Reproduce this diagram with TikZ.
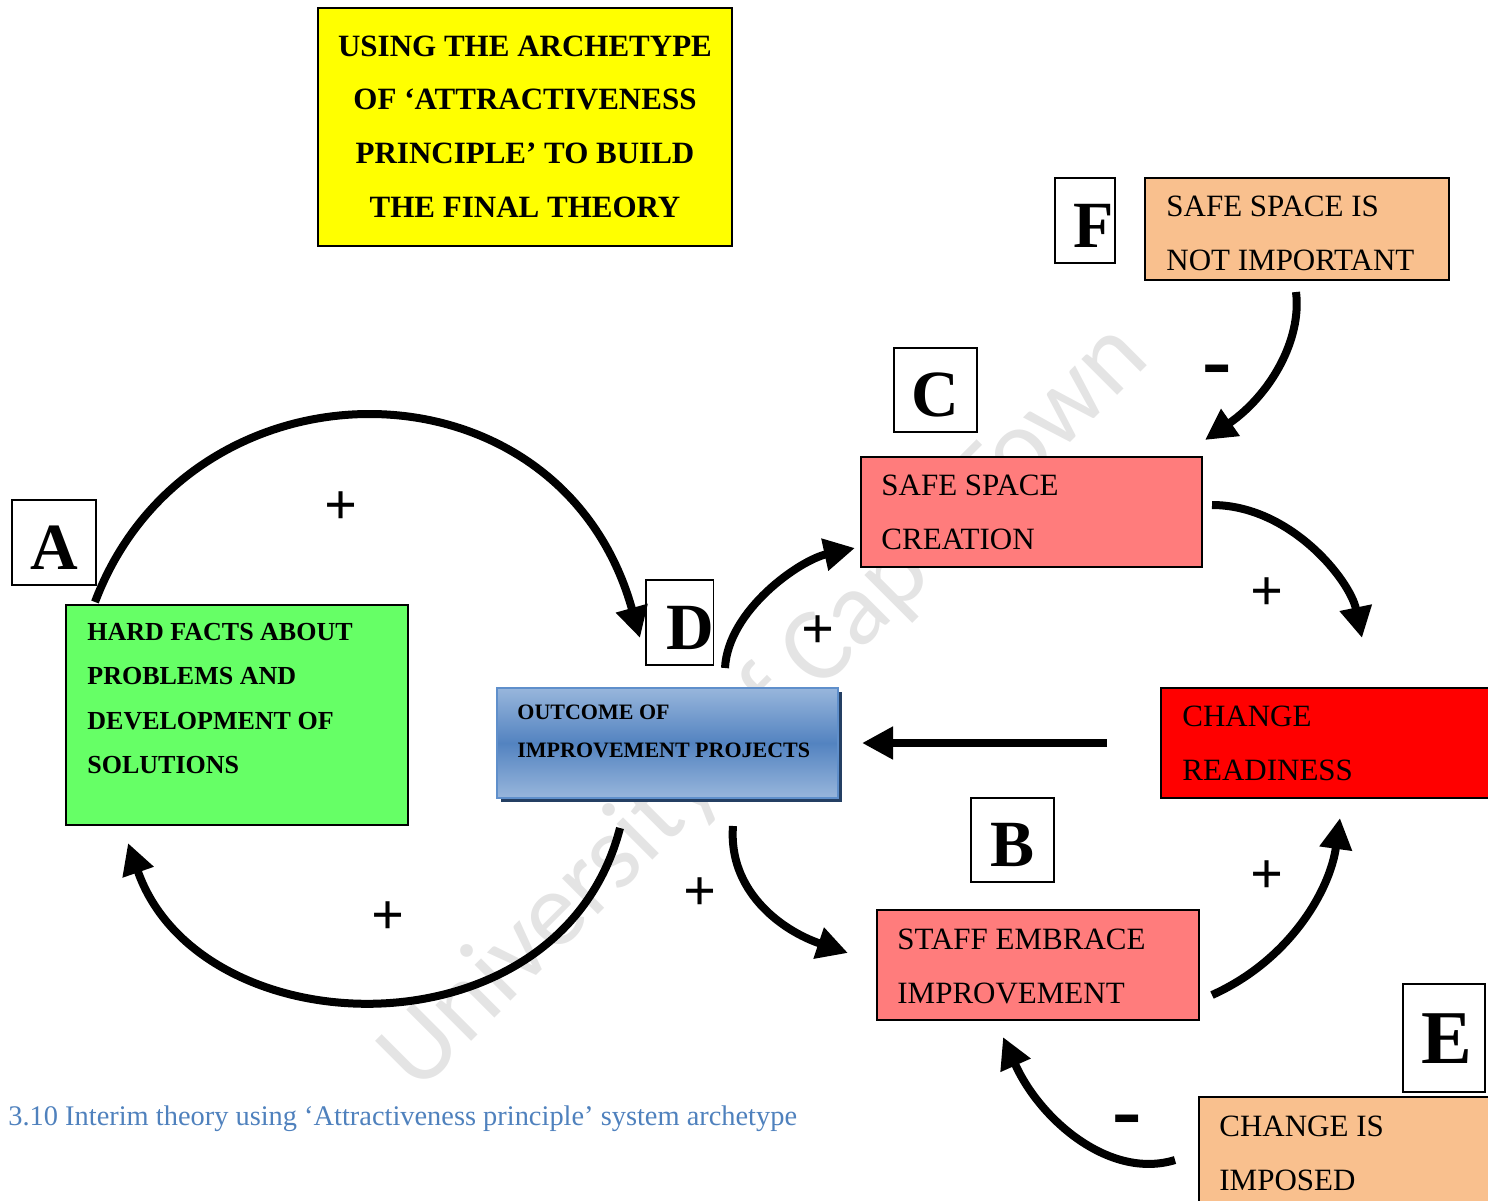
\documentclass[tikz,border=0pt]{standalone}
\usepackage{fontspec}
\setmainfont{Liberation Serif}
\newfontfamily\wmfont{Carlito}
\usetikzlibrary{calc,arrows.meta,shadows}

\definecolor{titleyellow}{HTML}{FFFF00}
\definecolor{factgreen}{HTML}{66FF66}
\definecolor{salmon}{HTML}{FF7C7C}
\definecolor{alarmred}{HTML}{FF0000}
\definecolor{peach}{HTML}{F9C08E}
\definecolor{outlight}{HTML}{98B6DC}
\definecolor{outdark}{HTML}{5383C0}
\definecolor{outborder}{HTML}{5F8FCB}
\definecolor{outshadow}{HTML}{243F63}
\definecolor{capblue}{HTML}{4F81BD}
\definecolor{wmgray}{HTML}{E4E4E4}

\begin{document}
\begin{tikzpicture}[x=0.5pt,y=-0.5pt,
  box/.style={draw=black, line width=0.8pt, anchor=north west, inner sep=0pt, outer sep=0pt},
  letterbox/.style={box, fill=white, font=\fontsize{33}{33}\selectfont\bfseries, text height=26.8pt, text depth=0pt},
  boxtext/.style={anchor=west, align=left, inner sep=0pt},
  plaintext/.style={boxtext, font=\fontsize{15.5}{27}\selectfont},
  arr/.style={line width=4pt, -{Triangle[length=15.5pt,width=15.5pt]}},
  sign/.style={font=\fontsize{29}{29}\selectfont\bfseries, inner sep=0pt},
  minus/.style={font=\fontsize{44}{44}\selectfont\bfseries, inner sep=0pt, anchor=base}]
\useasboundingbox (0,0) rectangle (1488,1200);

% background watermark
\node[font=\wmfont\fontsize{53}{53}\selectfont, text=wmgray, rotate=45, inner sep=0pt] (wm) at (765,708) {University of Cape Town};

% title
\node[box, fill=titleyellow, minimum width=207pt, minimum height=119pt] (title) at (318,8) {};
\node[align=center, inner sep=0pt, font=\fontsize{15.5}{26.8}\selectfont\bfseries] (title-text) at (525,126.5)
  {USING THE ARCHETYPE\\OF ‘ATTRACTIVENESS\\PRINCIPLE’ TO BUILD\\THE FINAL THEORY};

% main boxes
\node[box, fill=factgreen, minimum width=171pt, minimum height=110pt] (hf) at (66,605) {};
\node[boxtext, font=\fontsize{13}{22.3}\selectfont\bfseries] (hf-text) at (87,698.5)
  {HARD FACTS ABOUT\\PROBLEMS AND\\DEVELOPMENT OF\\SOLUTIONS};

\node[box, draw=outborder, line width=1.2pt, top color=outlight, bottom color=outlight, middle color=outdark,
  drop shadow={shadow xshift=2pt, shadow yshift=-2.2pt, fill=outshadow, opacity=1, draw=none},
  minimum width=170.5pt, minimum height=55pt] (out) at (497,688) {};
\node[boxtext, font=\fontsize{11}{19}\selectfont\bfseries] (out-text) at (517,731)
  {OUTCOME OF\\IMPROVEMENT PROJECTS};

\node[box, fill=salmon, minimum width=170.5pt, minimum height=55pt] (ssc) at (861,457) {};
\node[plaintext] (ssc-text) at (881,512) {SAFE SPACE\\CREATION};

\node[box, fill=alarmred, minimum width=170pt, minimum height=55pt] (cr) at (1161,688) {};
\node[plaintext] (cr-text) at (1182,743) {CHANGE\\READINESS};

\node[box, fill=salmon, minimum width=161pt, minimum height=55pt] (sei) at (877,910) {};
\node[plaintext] (sei-text) at (897,966) {STAFF EMBRACE\\IMPROVEMENT};

\node[box, fill=peach, minimum width=152pt, minimum height=51pt] (ssni) at (1145,178) {};
\node[plaintext] (ssni-text) at (1166,233.5) {SAFE SPACE IS\\NOT IMPORTANT};

\node[box, fill=peach, minimum width=150pt, minimum height=55pt] (cii) at (1199,1097) {};
\node[plaintext] (cii-text) at (1219,1153) {CHANGE IS\\IMPOSED};

% letter labels
\node[letterbox, minimum width=42pt, minimum height=42.5pt] (labA) at (12,500) {A};
\node[letterbox, minimum width=30pt, minimum height=42.5pt] (labD) at (646,580) {\hspace{10pt}D};
\node[letterbox, minimum width=41.5pt, minimum height=42pt] (labC) at (894,348) {C};
\node[letterbox, minimum width=30pt, minimum height=42.5pt] (labF) at (1055,178) {\hspace{9pt}F};
\node[letterbox, minimum width=41.5pt, minimum height=42pt] (labB) at (971,798) {B};
\node[letterbox, minimum width=41pt, minimum height=54pt, font=\fontsize{38}{38}\selectfont\bfseries,
  text height=25.2pt] (labE) at (1403,984) {\hspace{3pt}E};

% causal links
\draw[arr] ($(hf.north west)+(29,-3)$) .. controls (190,350) and (560,350) .. ($(labD.south west)+(-6,-27)$);
\draw[arr] ($(out.south west)+(123,30)$) .. controls (560,1060) and (200,1050) .. ($(hf.south west)+(62,18)$);
\draw[arr] ($(out.north west)+(228,-20)$) .. controls (728,610) and (800,560) .. ($(ssc.south west)+(-6,-19)$);
\draw[arr] ($(ssc.east)+(10,-7)$) .. controls (1290,505) and (1350,580) .. ($(cr.north west)+(201,-50)$);
\draw[arr] ($(cr.west)+(-54,0)$) -- ($(out.east)+(24,0)$);
\draw[arr] ($(out.south west)+(236,28)$) .. controls (728,890) and (780,930) .. ($(sei.west)+(-29,-12)$);
\draw[arr] ($(sei.east)+(13,30)$) .. controls (1290,960) and (1330,890) .. ($(cr.south west)+(179,20)$);
\draw[arr] ($(ssni.south)+(-1,12)$) .. controls (1302,340) and (1270,395) .. ($(ssc.north east)+(3,-17)$);
\draw[arr] ($(cii.west)+(-24,8)$) .. controls (1110,1180) and (1040,1120) .. ($(sei.south west)+(126,17)$);

% polarity signs
\node[sign] (p1) at (341,508) {+};
\node[sign] (p2) at (818,632) {+};
\node[sign] (p3) at (1267,594) {+};
\node[sign] (p4) at (700,894) {+};
\node[sign] (p5) at (388,918) {+};
\node[sign] (p6) at (1267,877) {+};
\node[minus] (m1) at (1217,389) {-};
\node[minus] (m2) at (1127,1139) {-};

% caption
\node[anchor=base west, inner sep=0pt, text=capblue, font=\fontsize{14.2}{17}\selectfont] (caption) at (8,1125)
  {3.10 Interim theory using ‘Attractiveness principle’ system archetype};
\end{tikzpicture}
\end{document}
